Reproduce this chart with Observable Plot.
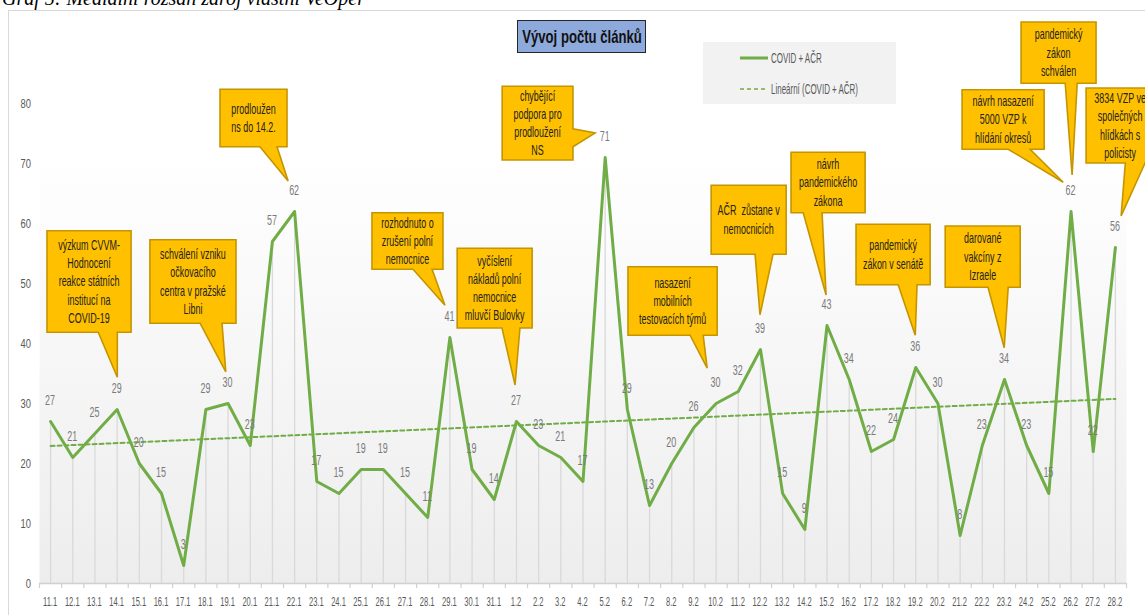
<!DOCTYPE html>
<html>
<head>
<meta charset="utf-8">
<script src="https://cdn.jsdelivr.net/npm/d3@7"></script>
<script src="https://cdn.jsdelivr.net/npm/@observablehq/plot@0.6"></script>
<style>
  body { margin: 0; background: #fff; }
  #wrap { position: relative; width: 1145px; height: 615px; overflow: hidden; background: #fff;
          font-family: "Liberation Sans", Arial, sans-serif; }
  #border { position: absolute; left: 8px; top: 10px; width: 1300px; height: 800px;
            border-left: 1px solid #d9d9d9; border-top: 1px solid #d9d9d9; }
  #chart { position: absolute; left: 0; top: 0; }
  #caption { position: absolute; left: 2px; top: -12px; line-height: 20px; font-family: "Liberation Serif", serif;
             font-style: italic; font-size: 20px; white-space: nowrap; color: #000; }
  #title { position: absolute; left: 517px; top: 20px; width: 129px; height: 33px; box-sizing: border-box;
           background: #8EA9DB; border: 1.5px solid #262626; }
  #title span { position: absolute; left: 50%; top: 50%; white-space: nowrap; font-weight: bold; font-size: 19px;
                line-height: 20px; color: #111; transform: translate(-50%, -50%) scaleX(0.69); }
  #legend { position: absolute; left: 703px; top: 42px; width: 193px; height: 62px; background: #f2f2f2; }
</style>
</head>
<body>
<div id="wrap">
  <div id="border"></div>
  <div id="chart"></div>
  <div id="caption">Graf 5: Mediální rozsah zdroj vlastní VeOper</div>
  <div id="title"><span>Vývoj počtu článků</span></div>
  <div id="legend"></div>
</div>
<script>
// ---- data ----
const dates = ["11.1","12.1","13.1","14.1","15.1","16.1","17.1","18.1","19.1","20.1","21.1","22.1","23.1","24.1","25.1","26.1","27.1","28.1","29.1","30.1","31.1",
  "1.2","2.2","3.2","4.2","5.2","6.2","7.2","8.2","9.2","10.2","11.2","12.2","13.2","14.2","15.2","16.2","17.2","18.2","19.2","20.2","21.2","22.2","23.2","24.2","25.2","26.2","27.2","28.2"];
const counts = [27,21,25,29,20,15,3,29,30,23,57,62,17,15,19,19,15,11,41,19,14,
  27,23,21,17,71,29,13,20,26,30,32,39,15,9,43,34,22,24,36,30,8,23,34,23,15,62,22,56];
const yTicks = [0,10,20,30,40,50,60,70,80];
const seriesName = "COVID + AČR";
const trendName = "Lineární (COVID + AČR)";

// callout annotations: text lines
const calloutText = [
  ["výzkum CVVM-","Hodnocení","reakce státních","institucí na","COVID-19"],
  ["prodloužen","ns do 14.2."],
  ["schválení vzniku","očkovacího","centra v pražské","Libni"],
  ["rozhodnuto o","zrušení polní","nemocnice"],
  ["vyčíslení","nákladů polní","nemocnice","mluvčí Bulovky"],
  ["chybějící","podpora pro","prodloužení","NS"],
  ["nasazení","mobilních","testovacích týmů"],
  ["AČR  zůstane v","nemocnicích"],
  ["návrh","pandemického","zákona"],
  ["pandemický","zákon v senátě"],
  ["darované","vakcíny z","Izraele"],
  ["návrh nasazení","5000 VZP k","hlídání okresů"],
  ["pandemický","zákon","schválen"],
  ["3834 VZP ve","společných","hlídkách s","policisty"]
];
// callout geometry in category-index / value units (box, wedge base, wedge tip)
const calloutGeom = [
  {x1:-0.14, x2:3.65, top:58.7, bottom:41.8, side:"bottom", b1:2.17, b2:3.03, tx:3.03, ty:34.3},
  {x1:7.66, x2:10.68, top:82.3, bottom:72.7, side:"bottom", b1:9.46, b2:10.23, tx:10.73, ty:67.0},
  {x1:4.50, x2:8.38, top:57.2, bottom:43.3, side:"bottom", b1:6.76, b2:7.75, tx:7.92, ty:35.2},
  {x1:14.51, x2:17.71, top:61.7, bottom:52.3, side:"bottom", b1:16.36, b2:17.22, tx:17.80, ty:46.3},
  {x1:18.35, x2:21.73, top:55.8, bottom:42.5, side:"bottom", b1:20.37, b2:21.18, tx:20.96, ty:33.0},
  {x1:20.38, x2:23.57, top:82.8, bottom:70.5, side:"right", b1:75.7, b2:72.7, tx:24.57, ty:75.0},
  {x1:26.05, x2:30.07, top:52.7, bottom:41.3, side:"bottom", b1:28.85, b2:29.44, tx:29.62, ty:35.8},
  {x1:29.80, x2:33.18, top:66.3, bottom:54.8, side:"bottom", b1:31.78, b2:32.59, tx:32.00, ty:44.7},
  {x1:33.40, x2:36.74, top:71.8, bottom:61.7, side:"bottom", b1:33.95, b2:34.80, tx:34.98, ty:48.0},
  {x1:36.33, x2:39.67, top:59.8, bottom:49.7, side:"bottom", b1:38.23, b2:39.08, tx:39.00, ty:41.3},
  {x1:40.35, x2:43.73, top:59.5, bottom:49.3, side:"bottom", b1:42.28, b2:43.19, tx:43.01, ty:39.2},
  {x1:41.11, x2:44.81, top:82.2, bottom:72.3, side:"bottom", b1:43.19, b2:44.18, tx:45.67, ty:66.8},
  {x1:43.77, x2:47.15, top:93.5, bottom:83.3, side:"bottom", b1:45.76, b2:46.30, tx:46.07, ty:68.0},
  {x1:46.70, x2:49.77, top:82.5, bottom:70.0, side:"bottom", b1:48.47, b2:49.36, tx:48.28, ty:61.2}
];

const data = counts.map((v, i) => ({i, v, date: dates[i]}));
const GREEN = "#70AD47";
const FONT = '"Liberation Sans", Arial, sans-serif';

// condensed text drawn through the chart's scales
function narrowText(rows, {x, y, text, dx = 0, dy = 0, anchor = "middle", size = 13, fill = "#595959", sx = 0.68}) {
  return (index, scales) => {
    const g = d3.create("svg:g").attr("font-family", FONT).attr("font-size", size)
      .attr("fill", fill).attr("text-anchor", anchor);
    rows.forEach(r => {
      const px = scales.x(x(r)) + dx, py = scales.y(y(r)) + dy;
      g.append("text").attr("transform", `translate(${px},${py}) scale(${sx},1)`)
        .attr("dy", "0.35em").text(text(r));
    });
    return g.node();
  };
}

function gradientDefs() {
  const defs = d3.create("svg:defs");
  const g = defs.append("linearGradient").attr("id", "plotBg").attr("x1", 0).attr("y1", 0).attr("x2", 0).attr("y2", 1);
  g.append("stop").attr("offset", "0").attr("stop-color", "#ffffff");
  g.append("stop").attr("offset", "0.2").attr("stop-color", "#ffffff");
  g.append("stop").attr("offset", "1").attr("stop-color", "#ededed");
  return defs.node();
}

function callouts(index, scales) {
  const x = scales.x, y = scales.y;
  const g = d3.create("svg:g");
  calloutGeom.forEach((c, k) => {
    const X1 = x(c.x1), X2 = x(c.x2), Y1 = y(c.top), Y2 = y(c.bottom);
    const TX = x(c.tx), TY = y(c.ty);
    let d;
    if (c.side === "bottom") {
      const B1 = x(c.b1), B2 = x(c.b2);
      d = `M${X1},${Y1}H${X2}V${Y2}H${B2}L${TX},${TY}L${B1},${Y2}H${X1}Z`;
    } else {
      const B1 = y(c.b1), B2 = y(c.b2);
      d = `M${X1},${Y1}H${X2}V${B1}L${TX},${TY}L${X2},${B2}V${Y2}H${X1}Z`;
    }
    g.append("path").attr("d", d).attr("fill", "#FFC000").attr("stroke", "#C49500")
      .attr("stroke-width", 1.6).attr("stroke-linejoin", "miter");
    const lines = calloutText[k];
    const lh = 18.3;
    const cx = (X1 + X2) / 2, cy = (Y1 + Y2) / 2;
    const t = g.append("text").attr("text-anchor", "middle").attr("font-family", FONT)
      .attr("font-size", 14).attr("fill", "#222")
      .attr("transform", `translate(${cx},${cy}) scale(0.64,1)`);
    lines.forEach((s, j) => {
      t.append("tspan").attr("x", 0).attr("y", (j - (lines.length - 1) / 2) * lh).attr("dy", "0.35em").text(s);
    });
  });
  return g.node();
}

const chart = Plot.plot({
  width: 1145,
  height: 615,
  marginLeft: 39,
  marginRight: 19,
  marginTop: 43,
  marginBottom: 32,
  x: {type: "linear", domain: [-0.5, 48.5], axis: null},
  y: {domain: [0, 90], axis: null},
  style: {fontFamily: FONT, background: "transparent", overflow: "visible"},
  marks: [
    gradientDefs,
    Plot.frame({fill: "url(#plotBg)", stroke: "none"}),
    Plot.ruleX(data, {x: "i", y1: 0, y2: "v", stroke: "#d9d9d9", strokeWidth: 1.3}),
    Plot.ruleY([0], {stroke: "#d0d0d0", strokeWidth: 1.3}),
    Plot.ruleX(d3.range(50).map(k => k - 0.5), {y1: 0, y2: -0.85, stroke: "#d0d0d0", strokeWidth: 1.2}),
    narrowText(yTicks, {x: () => -0.5, y: d => d, text: d => String(d), anchor: "end", dx: -8, size: 13, sx: 0.72}),
    narrowText(data, {x: d => d.i, y: () => 0, text: d => d.date, dy: 18.5, size: 12, sx: 0.63}),
    Plot.linearRegressionY(data, {x: "i", y: "v", ci: 0, stroke: GREEN, strokeWidth: 2, strokeDasharray: "4,3"}),
    Plot.line(data, {x: "i", y: "v", stroke: GREEN, strokeWidth: 3, strokeLinejoin: "round"}),
    narrowText(data, {x: d => d.i, y: d => d.v, text: d => String(d.v), dy: -21, size: 14, sx: 0.64, fill: "#7a7a7a"}),
    callouts
  ]
});
document.getElementById("chart").appendChild(chart);

// legend
const leg = d3.select("#legend").append("svg").attr("width", 193).attr("height", 62);
leg.append("line").attr("x1", 37).attr("x2", 65).attr("y1", 16).attr("y2", 16).attr("stroke", GREEN).attr("stroke-width", 3);
leg.append("text").attr("transform", "translate(68,16) scale(0.57,1)").attr("dy", "0.35em").attr("font-family", FONT)
  .attr("font-size", 14).attr("fill", "#595959").text(seriesName);
leg.append("line").attr("x1", 37).attr("x2", 65).attr("y1", 47).attr("y2", 47).attr("stroke", GREEN).attr("stroke-width", 1.5).attr("stroke-dasharray", "4,3");
leg.append("text").attr("transform", "translate(68,47) scale(0.57,1)").attr("dy", "0.35em").attr("font-family", FONT)
  .attr("font-size", 14).attr("fill", "#595959").text(trendName);
</script>
</body>
</html>
